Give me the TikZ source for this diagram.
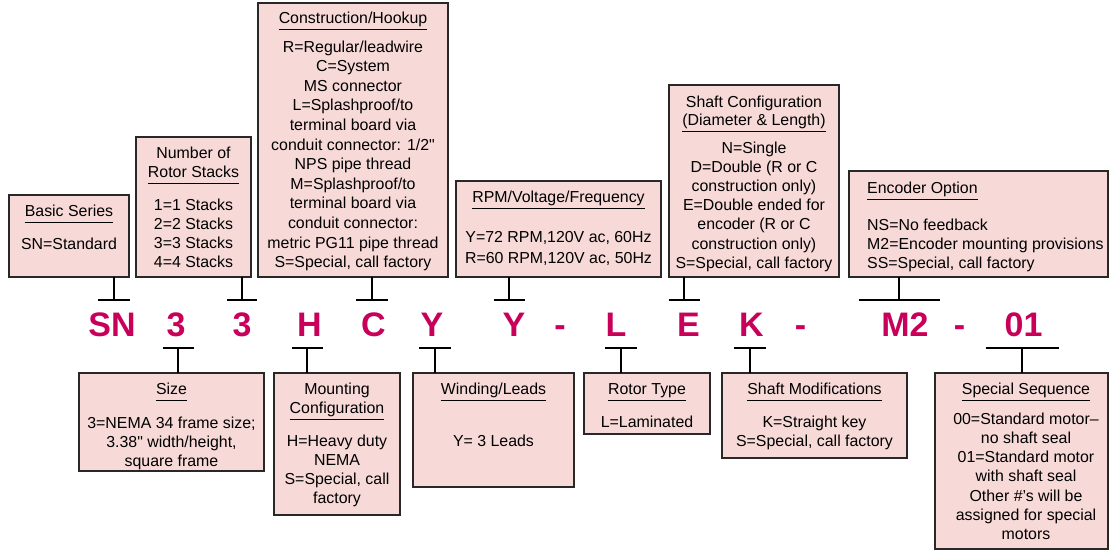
\documentclass[tikz,border=0pt]{standalone}
\usepackage{fontspec}
\setmainfont{Liberation Sans}
\definecolor{boxfill}{RGB}{247,218,216}
\definecolor{boxborder}{RGB}{40,40,40}
\definecolor{codecolor}{RGB}{200,0,90}
\newcommand\bodyfnt{\fontsize{15.9}{19}\selectfont}
\newcommand\codefnt{\fontsize{34}{40}\selectfont\bfseries}
\newcommand\qdbl{\XeTeXglyph\XeTeXcharglyph"22\relax}
\tikzset{
  infobox/.style={draw=boxborder, line width=1.3pt, fill=boxfill, anchor=north west, inner sep=0pt, outer sep=0pt},
  txt/.style={anchor=base, inner sep=0pt, font=\bodyfnt},
  ltxt/.style={anchor=base west, inner sep=0pt, font=\bodyfnt},
  codetxt/.style={anchor=base, inner sep=0pt, font=\codefnt, text=codecolor},
  conn/.style={line width=1.2pt, black},
  uline/.style={line width=1pt, black}
}
\newcommand\mkbox[5]{\node[infobox, minimum width=#4pt, minimum height=#5pt] (#1) at (#2,#3) {};}
\newcommand\tbar[2]{\draw[conn] ([xshift=-#2pt]#1) -- ([xshift=#2pt]#1);}
\newcommand\uln[1]{\draw[uline] ([yshift=-6pt]#1.base west) -- ([yshift=-6pt]#1.base east);}
\begin{document}
\begin{tikzpicture}[x=1pt,y=-1pt]
\useasboundingbox (0,0) rectangle (1110,552);
% ---------- boxes ----------
\mkbox{b1}{9}{195}{120}{82}
\mkbox{b2}{136}{137}{115}{140}
\mkbox{b3}{258}{3}{190}{274}
\mkbox{b4}{456}{181}{205}{96}
\mkbox{b5}{669}{85}{170}{192}
\mkbox{b6}{849}{171}{259}{106}
\mkbox{b7}{79}{373}{185}{98}
\mkbox{b8}{274}{373}{126}{142}
\mkbox{b9}{413}{373}{161}{114}
\mkbox{b10}{584}{373}{126}{61}
\mkbox{b11}{722}{373}{185}{85}
\mkbox{b12}{935}{373}{173}{176}
% ---------- box 1 ----------
\node[txt] (h1) at (69,216) {Basic Series}; \uln{h1}
\node[txt] (t1) at (69,249) {SN=Standard};
% ---------- box 2 ----------
\node[txt] (h2a) at (193.5,158) {Number of};
\node[txt] (h2) at (193.5,177) {Rotor Stacks}; \uln{h2}
\foreach \t [count=\i from 0] in {1=1 Stacks,2=2 Stacks,3=3 Stacks,4=4 Stacks}
  \node[txt] (t2-\i) at (193.5,{210+\i*19.3}) {\t};
% ---------- box 3 ----------
\node[txt] (h3) at (353,23) {Construction/Hookup}; \uln{h3}
\foreach \t [count=\i from 0] in {R=Regular/leadwire,C=System,MS connector,L=Splashproof/to,terminal board via,conduit connector: 1/2\qdbl,NPS pipe thread,M=Splashproof/to,terminal board via,conduit connector:,metric PG11 pipe thread,{S=Special, call factory}}
  \node[txt] (t3-\i) at (353,{52+\i*19.6}) {\t};
% ---------- box 4 ----------
\node[txt] (h4) at (558.5,202) {RPM/Voltage/Frequency}; \uln{h4}
\node[txt] (t4-0) at (558.5,242) {Y=72 RPM,120V ac, 60Hz};
\node[txt] (t4-1) at (558.5,263) {R=60 RPM,120V ac, 50Hz};
% ---------- box 5 ----------
\node[txt] (h5a) at (754,107) {Shaft Configuration};
\node[txt] (h5) at (754,125) {(Diameter \& Length)}; \uln{h5}
\foreach \t [count=\i from 0] in {N=Single,D=Double (R or C,construction only),E=Double ended for,encoder (R or C,construction only),{S=Special, call factory}}
  \node[txt] (t5-\i) at (754,{153+\i*19.2}) {\t};
% ---------- box 6 ----------
\node[ltxt] (h6) at (867,193) {Encoder Option}; \uln{h6}
\node[ltxt] (t6-0) at (867,230) {NS=No feedback};
\node[ltxt] (t6-1) at (867,249) {M2=Encoder mounting provisions};
\node[ltxt] (t6-2) at (867,268) {SS=Special, call factory};
% ---------- box 7 ----------
\node[txt] (h7) at (171.5,394) {Size}; \uln{h7}
\node[txt] (t7-0) at (171.5,428) {3=NEMA 34 frame size;};
\node[txt] (t7-1) at (171.5,447) {3.38\qdbl\ width/height,};
\node[txt] (t7-2) at (171.5,466) {square frame};
% ---------- box 8 ----------
\node[txt] (h8a) at (337,394) {Mounting};
\node[txt] (h8) at (337,413) {Configuration}; \uln{h8}
\foreach \t [count=\i from 0] in {H=Heavy duty,NEMA,{S=Special, call},factory}
  \node[txt] (t8-\i) at (337,{446+\i*19}) {\t};
% ---------- box 9 ----------
\node[txt] (h9) at (493.5,394) {Winding/Leads}; \uln{h9}
\node[txt] (t9) at (493.5,446) {Y= 3 Leads};
% ---------- box 10 ----------
\node[txt] (h10) at (647,394) {Rotor Type}; \uln{h10}
\node[txt] (t10) at (647,427) {L=Laminated};
% ---------- box 11 ----------
\node[txt] (h11) at (814.5,394) {Shaft Modifications}; \uln{h11}
\node[txt] (t11-0) at (814.5,427) {K=Straight key};
\node[txt] (t11-1) at (814.5,446) {S=Special, call factory};
% ---------- box 12 ----------
\node[txt] (h12) at (1026,394) {Special Sequence}; \uln{h12}
\foreach \t [count=\i from 0] in {00=Standard motor--,no shaft seal,01=Standard motor,with shaft seal,Other \#'s will be,assigned for special,motors}
  \node[txt] (t12-\i) at (1026,{424+\i*19.3}) {\t};
% ---------- code letters ----------
\foreach \t/\x [count=\i] in {SN/112,3/176,3/242,H/309.5,C/373.5,Y/432,Y/514,-/560,L/616,E/688.5,K/751.5,-/800.5,M2/905,-/959.5,01/1023.5}
  \node[codetxt] (k\i) at (\x,336) {\t};
% ---------- connectors ----------
\coordinate (c1) at (114,300);
\coordinate (c2) at (242,300);
\coordinate (c3) at (372,300);
\coordinate (c4) at (509,300);
\coordinate (c5) at (684,300);
\coordinate (c6) at (899,300);
\coordinate (c7) at (178,348);
\coordinate (c8) at (307,348);
\coordinate (c9) at (435,348);
\coordinate (c10) at (621,348);
\coordinate (c11) at (750,348);
\coordinate (c12) at (1022,348);
\draw[conn] (b1.south -| c1) -- (c1); \tbar{c1}{16}
\draw[conn] (b2.south -| c2) -- (c2); \tbar{c2}{15}
\draw[conn] (b3.south -| c3) -- (c3); \tbar{c3}{16}
\draw[conn] (b4.south -| c4) -- (c4); \tbar{c4}{15.5}
\draw[conn] (b5.south -| c5) -- (c5); \tbar{c5}{15.5}
\draw[conn] (b6.south -| c6) -- (c6); \tbar{c6}{40.5}
\draw[conn] (c7) -- (c7 |- b7.north); \tbar{c7}{15.5}
\draw[conn] (c8) -- (c8 |- b8.north); \tbar{c8}{15.5}
\draw[conn] (c9) -- (c9 |- b9.north); \tbar{c9}{16}
\draw[conn] (c10) -- (c10 |- b10.north); \tbar{c10}{16}
\draw[conn] (c11) -- (c11 |- b11.north); \tbar{c11}{16}
\draw[conn] (c12) -- (c12 |- b12.north); \tbar{c12}{36.5}
\end{tikzpicture}
\end{document}
